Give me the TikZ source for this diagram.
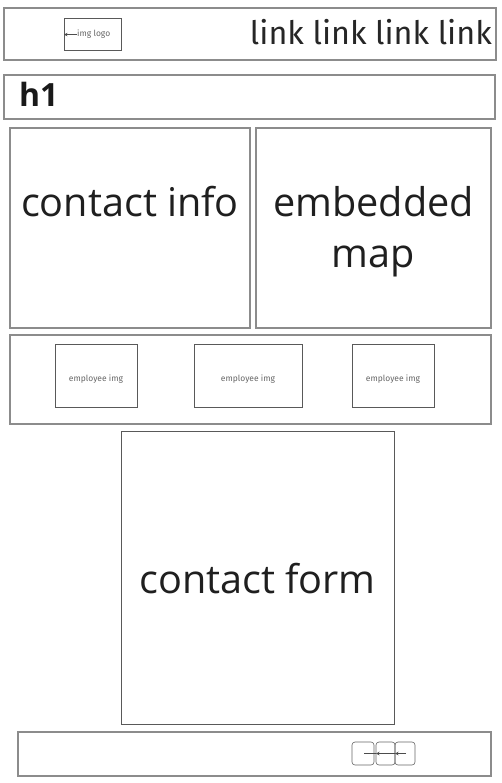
\documentclass[tikz,border=0pt]{standalone}
\usepackage{fontspec}
\setmainfont{Open Sans}
\newfontfamily\fira{Fira Sans}
\usetikzlibrary{arrows.meta}
\begin{document}
\begin{tikzpicture}[x=1pt,y=-1pt,
  box/.style={anchor=north west,inner sep=0,outer sep=0},
  outer/.style={box,draw=black!45,line width=1.4pt},
  inner/.style={box,draw=black!65,line width=0.9pt},
  big/.style={font=\fontsize{39.6}{51}\selectfont,text=black!88,inner sep=0,anchor=base},
  small/.style={font=\fira\fontsize{8.5}{10}\selectfont,text=black!60,inner sep=0},
  icon/.style={box,draw=black!60,line width=0.6pt,rounded corners=3pt},
  conn/.style={draw=black!70,line width=0.6pt},
  arr/.style={conn,-{Stealth[length=3.5pt,width=3.5pt]}}]
\useasboundingbox (0,0) rectangle (502,783);
\fill[white] (0,0) rectangle (502,783);
% header
\node[outer,minimum width=492pt,minimum height=52pt] (hdr) at (4,8) {};
\node[inner,minimum width=57pt,minimum height=32pt] (logo) at (64,18) {};
\node[small,anchor=base west] (logotxt) at (77,37) {img logo};
\draw[arr] (logotxt.west) -- (logo.west |- logotxt.west);
\node[font=\fira\fontsize{32.3}{40}\selectfont,text=black!85,inner sep=0,anchor=base east] (links) at (492,45) {link link link link};
% h1
\node[outer,minimum width=491pt,minimum height=44pt] (h1box) at (4,75) {};
\node[font=\bfseries\fontsize{32}{38}\selectfont,text=black!90,inner sep=0,anchor=base west] (h1) at (19,107) {h1};
% contact info / map
\node[outer,minimum width=240pt,minimum height=200pt] (info) at (10,128) {};
\node[big] (infotxt) at (130,217) {contact info};
\node[outer,minimum width=235pt,minimum height=200pt] (map) at (256,128) {};
\node[big] (maptxt1) at (373.5,217) {embedded};
\node[big] (maptxt2) at (373.5,268) {map};
% employees
\node[outer,minimum width=481pt,minimum height=89pt] (emprow) at (10,335) {};
\node[inner,minimum width=82pt,minimum height=63pt] (e1) at (55,344) {};
\node[inner,minimum width=108pt,minimum height=63pt] (e2) at (194,344) {};
\node[inner,minimum width=82pt,minimum height=63pt] (e3) at (352,344) {};
\node[small,anchor=base] (e1t) at (96,381.5) {employee img};
\node[small,anchor=base] (e2t) at (248,381.5) {employee img};
\node[small,anchor=base] (e3t) at (393,381.5) {employee img};
% contact form
\node[inner,minimum width=273pt,minimum height=293pt] (form) at (121,431) {};
\node[big] (formtxt) at (257.5,593) {contact form};
% footer
\node[outer,minimum width=473pt,minimum height=44pt] (footer) at (18,732) {};
\node[icon,minimum width=22pt,minimum height=23pt] (f1) at (352,742) {};
\node[icon,minimum width=19pt,minimum height=23pt] (f2) at (376,742) {};
\node[icon,minimum width=20pt,minimum height=23pt] (f3) at (395,742) {};
\coordinate (fa) at (406,753.5);
\coordinate (fb) at (364,753.5);
\draw[arr] (fa) -- (f3.west);
\draw[arr] (f3.west) -- (f2.west);
\draw[conn] (f2.west) -- (fb);
\end{tikzpicture}
\end{document}
